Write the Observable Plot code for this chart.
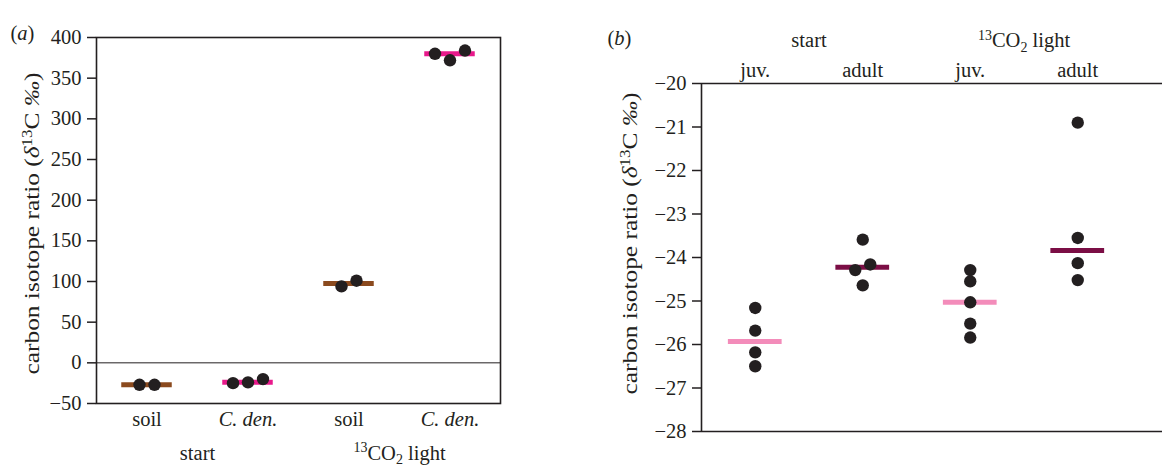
<!DOCTYPE html>
<html><head><meta charset="utf-8">
<script src="https://cdn.jsdelivr.net/npm/d3@7"></script>
<script src="https://cdn.jsdelivr.net/npm/@observablehq/plot@0.6"></script>
<style>
body{margin:0;background:#fff;}
#wrap{display:flex;width:1162px;height:470px;overflow:hidden;}
#wrap svg text{font-size:20.5px;font-family:'Liberation Serif','Times New Roman',serif;}
</style></head><body><div id="wrap"></div>
<script>
// ---------- Panel (a) data ----------
const groupsA = ["start", "start", "13CO2 light", "13CO2 light"];
const categoriesA = ["soil", "C. den.", "soil", "C. den."];
const valuesA = [
  [-27, -27],
  [-25, -24, -20],
  [94, 101],
  [380, 372, 384]
];
const seriesA = ["soil", "C. den."];
const colorsA = ["#8b4a1e", "#e8198b"];
const yTicksA = [-50, 0, 50, 100, 150, 200, 250, 300, 350, 400];

// ---------- Panel (b) data ----------
const groupsB = ["start", "start", "13CO2 light", "13CO2 light"];
const categoriesB = ["juv.", "adult", "juv.", "adult"];
const valuesB = [
  [-25.16, -25.68, -26.18, -26.50],
  [-23.59, -24.29, -24.16, -24.64],
  [-24.29, -24.55, -25.03, -25.52, -25.84],
  [-20.90, -23.55, -24.13, -24.52]
];
const seriesB = ["juv.", "adult"];
const colorsB = ["#f38cba", "#7b0e45"];
const yTicksB = [-28, -27, -26, -25, -24, -23, -22, -21, -20];

const yLabel = "carbon isotope ratio (δ13C ‰)";
const FONT = "'Liberation Serif','Times New Roman',serif";
const INK = "#231f20";

// horizontal spreading of overlapping dots (simple collision clusters)
function clusterOffsets(vals, toPx, thresh, gap) {
  const n = vals.length, px = vals.map(toPx);
  const parent = d3.range(n);
  const find = i => parent[i] === i ? i : (parent[i] = find(parent[i]));
  for (let i = 0; i < n; i++) for (let j = i + 1; j < n; j++)
    if (Math.abs(px[i] - px[j]) < thresh) parent[find(j)] = find(i);
  const off = new Array(n).fill(0);
  for (const members of d3.group(d3.range(n), i => find(i)).values())
    members.forEach((idx, k) => off[idx] = (k - (members.length - 1) / 2) * gap);
  return off;
}

function buildRows(groups, cats, values, yPx, bandPx) {
  const points = [], meds = [], labels = [];
  values.forEach((vals, i) => {
    const off = clusterOffsets(vals, yPx, 10, 15);
    vals.forEach((v, k) => points.push({i, cat: cats[i], v, x: i + off[k] / bandPx}));
    meds.push({i, cat: cats[i], med: d3.median(vals)});
    labels.push({i, cat: cats[i], group: groups[i]});
  });
  const groupRows = Array.from(d3.rollup(labels, g => d3.mean(g, d => d.i), d => d.group),
    ([group, mid]) => ({group, mid}));
  return {points, meds, labels, groupRows};
}

function richText(svg) {
  d3.select(svg).selectAll("text").each(function() {
    const t = this.textContent;
    const sel = d3.select(this);
    const sup = "14px";
    if (t === "13CO2 light") {
      sel.text(null);
      sel.append("tspan").style("font-size", sup).attr("dy", -7.5).text("13");
      sel.append("tspan").attr("dy", 7.5).text("CO");
      sel.append("tspan").style("font-size", sup).attr("dy", 4.5).text("2");
      sel.append("tspan").attr("dy", -4.5).text(" light");
    } else if (t === yLabel) {
      sel.text(null);
      sel.style("font-size", "21px");
      sel.append("tspan").text("carbon isotope ratio (");
      sel.append("tspan").style("font-style", "italic").text("δ");
      sel.append("tspan").style("font-size", sup).attr("dy", -7.5).text("13");
      sel.append("tspan").attr("dy", 7.5).text("C ");
      sel.append("tspan").style("font-style", "italic").text("‰");
      sel.append("tspan").text(")");
      sel.attr("textLength", 302).attr("lengthAdjust", "spacingAndGlyphs");
    } else if (t === "(a)" || t === "(b)") {
      sel.text(null);
      sel.append("tspan").text("(");
      sel.append("tspan").style("font-style", "italic").text(t[1]);
      sel.append("tspan").text(")");
    }
  });
  return svg;
}

const style = {fontFamily: FONT, fontSize: "20.5px", color: INK, background: "white"};

// ---------- Panel (a) ----------
{
  const W = 580, H = 470, mt = 37, mb = 67, ml = 96, mr = 80;
  const yPx = d3.scaleLinear([-50, 400], [H - mb, mt]);
  const R = buildRows(groupsA, categoriesA, valuesA, yPx, (W - ml - mr) / 4);
  const plot = Plot.plot({
    width: W, height: H, marginTop: mt, marginBottom: mb, marginLeft: ml, marginRight: mr,
    style,
    x: {domain: [-0.5, 3.5], axis: null},
    y: {domain: [-50, 400], ticks: yTicksA, tickSize: 9, tickPadding: 6, label: null},
    color: {domain: seriesA, range: colorsA},
    marks: [
      Plot.ruleY([0], {stroke: INK, strokeWidth: 1}),
      Plot.frame({stroke: INK, strokeWidth: 1.6}),
      Plot.ruleY(R.meds, {y: "med", x1: d => d.i - 0.25, x2: d => d.i + 0.25, stroke: "cat", strokeWidth: 5}),
      Plot.dot(R.points, {x: "x", y: "v", r: 6.2, fill: INK, stroke: null}),
      Plot.text(R.labels.filter(d => d.cat === "soil"), {x: "i", text: "cat", frameAnchor: "bottom", dy: 22, fill: INK}),
      Plot.text(R.labels.filter(d => d.cat !== "soil"), {x: "i", text: "cat", frameAnchor: "bottom", dy: 22, fontStyle: "italic", fill: INK}),
      Plot.text(R.groupRows, {x: "mid", text: "group", frameAnchor: "bottom", dy: 56, fill: INK}),
      Plot.text([yLabel], {text: d => d, frameAnchor: "left", textAnchor: "middle", rotate: -90, dx: -64, dy: 3, fill: INK}),
      Plot.text(["(a)"], {text: d => d, frameAnchor: "top-left", textAnchor: "start", dx: -86, dy: -12, fill: INK})
    ]
  });
  plot.querySelectorAll("[aria-label='y-axis tick']").forEach(g => g.setAttribute("stroke-width", 1.5));
  document.getElementById("wrap").appendChild(richText(plot));
}

// ---------- Panel (b) ----------
{
  const W = 582, H = 470, mt = 83, mb = 39, ml = 121, mr = 0;
  const xr = [121, 551];
  const yPx = d3.scaleLinear([-28, -20], [H - mb, mt]);
  const R = buildRows(groupsB, categoriesB, valuesB, yPx, (xr[1] - xr[0]) / 4);
  const plot = Plot.plot({
    width: W, height: H, marginTop: mt, marginBottom: mb, marginLeft: ml, marginRight: mr,
    style,
    x: {domain: [-0.5, 3.5], range: xr, axis: null},
    y: {domain: [-28, -20], ticks: yTicksB, tickSize: 9, tickPadding: 6, label: null},
    color: {domain: seriesB, range: colorsB},
    marks: [
      Plot.ruleY([-28, -20], {stroke: INK, strokeWidth: 1.6}),
      Plot.ruleX([-0.5], {stroke: INK, strokeWidth: 1.6}),
      Plot.ruleY(R.meds, {y: "med", x1: d => d.i - 0.25, x2: d => d.i + 0.25, stroke: "cat", strokeWidth: 5}),
      Plot.dot(R.points, {x: "x", y: "v", r: 6.2, fill: INK, stroke: null}),
      Plot.text(R.labels, {x: "i", text: "cat", frameAnchor: "top", dy: -21, fill: INK}),
      Plot.text(R.groupRows, {x: "mid", text: "group", frameAnchor: "top", dy: -51, fill: INK}),
      Plot.text([yLabel], {text: d => d, frameAnchor: "left", textAnchor: "middle", rotate: -90, dx: -71, dy: -14, fill: INK}),
      Plot.text(["(b)"], {text: d => d, frameAnchor: "top-left", textAnchor: "start", dx: -94, dy: -53, fill: INK})
    ]
  });
  plot.querySelectorAll("[aria-label='y-axis tick']").forEach(g => g.setAttribute("stroke-width", 1.5));
  document.getElementById("wrap").appendChild(richText(plot));
}
</script></body></html>
